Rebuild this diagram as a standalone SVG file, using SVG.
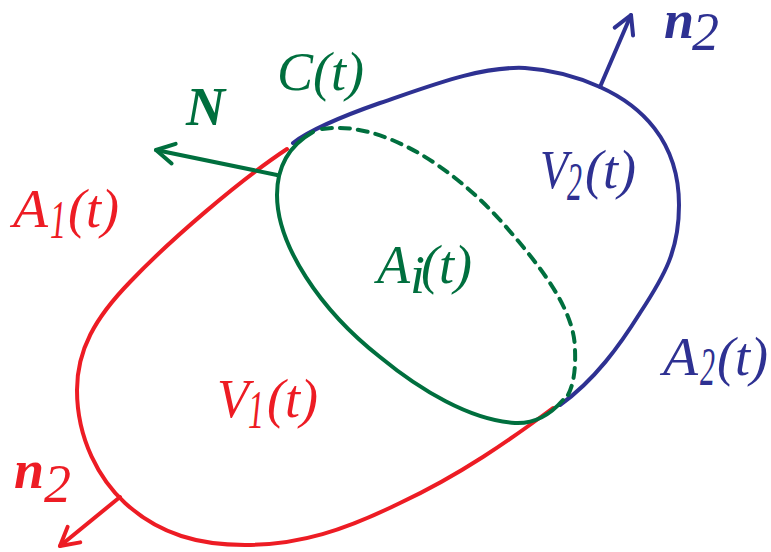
<svg xmlns="http://www.w3.org/2000/svg" width="771" height="552" viewBox="0 0 771 552">
<style>
.c{fill:none;stroke-width:4;stroke-linecap:round;stroke-linejoin:round}
.r{stroke:#ED1C24}.b{stroke:#2E3192}.g{stroke:#006F3E}
.t{font-family:"Liberation Serif","Times New Roman",serif;font-style:italic;font-size:54px}
.bi{font-weight:bold}
.fr{fill:#ED1C24}.fb{fill:#2E3192}.fg{fill:#006F3E}
</style>
<defs>
<marker id="mr" markerUnits="userSpaceOnUse" viewBox="-22 -13 26 26" markerWidth="26" markerHeight="26" refX="0" refY="0" orient="auto"><path d="M-18,-10 L0,0 L-18,10" fill="none" stroke="#ED1C24" stroke-width="4" stroke-linecap="round" stroke-linejoin="round"/></marker>
<marker id="mb" markerUnits="userSpaceOnUse" viewBox="-22 -13 26 26" markerWidth="26" markerHeight="26" refX="0" refY="0" orient="auto"><path d="M-18,-10 L0,0 L-18,10" fill="none" stroke="#2E3192" stroke-width="4" stroke-linecap="round" stroke-linejoin="round"/></marker>
<marker id="mg" markerUnits="userSpaceOnUse" viewBox="-22 -13 26 26" markerWidth="26" markerHeight="26" refX="0" refY="0" orient="auto"><path d="M-18,-10 L0,0 L-18,10" fill="none" stroke="#006F3E" stroke-width="4" stroke-linecap="round" stroke-linejoin="round"/></marker>
</defs>
<g id="V1">
<path class="c r" d="M287,149 C240,180 170,240 130,282 C95,318 77,350 77,390 C77,440 100,480 125,503 C160,535 200,545 245,545 C300,545 345,530 400,503 C460,475 510,440 553,408"/>
<text class="t fr" x="217" y="417" textLength="32" lengthAdjust="spacingAndGlyphs">V</text>
<text class="t fr" x="248" y="428" font-size="48" textLength="16" lengthAdjust="spacingAndGlyphs">1</text>
<text class="t fr" x="267" y="417">(t)</text>
<text class="t fr" x="13" y="227" textLength="35" lengthAdjust="spacingAndGlyphs">A</text>
<text class="t fr" x="50" y="238" font-size="48" textLength="16" lengthAdjust="spacingAndGlyphs">1</text>
<text class="t fr" x="68" y="227">(t)</text>
</g>
<g id="V2">
<path class="c b" d="M293,143 C310,130 340,117 380,103 C430,86 480,66 525,68 C555,70 580,78 600,87 C640,105 679,140 679,205 C679,250 665,275 640,313 C620,345 595,380 560,405"/>
<text class="t fb" x="540" y="188" textLength="28" lengthAdjust="spacingAndGlyphs">V</text>
<text class="t fb" x="567" y="200" font-size="38" textLength="15" lengthAdjust="spacingAndGlyphs">2</text>
<text class="t fb" x="585" y="188">(t)</text>
<text class="t fb" x="663" y="375" textLength="35" lengthAdjust="spacingAndGlyphs">A</text>
<text class="t fb" x="700" y="385" font-size="38" textLength="15" lengthAdjust="spacingAndGlyphs">2</text>
<text class="t fb" x="717" y="375">(t)</text>
</g>
<g id="Ai">
<path class="c g" d="M313,132 C290,145 277,165 277,195 C277,245 320,310 380,357 C420,390 470,420 515,423 C535,424 550,415 563,400"/>
<path class="c g" stroke-dasharray="10 8" stroke-linecap="butt" d="M322,129 C380,120 450,165 500,220 C540,265 575,310 575,350 C576,375 572,390 565,400"/>
<text class="t fg" x="377" y="283" textLength="33" lengthAdjust="spacingAndGlyphs">A</text>
<text class="t fg" x="410" y="293" font-size="30">i</text>
<text class="t fg" x="421" y="283">(t)</text>
<text class="t fg" x="277" y="90">C(t)</text>
</g>
<g id="connectors">
<line class="c g" x1="277" y1="175" x2="156" y2="150" marker-end="url(#mg)"/>
<line class="c b" x1="600" y1="87" x2="631" y2="15" marker-end="url(#mb)"/>
<line class="c r" x1="120" y1="497" x2="60" y2="546" marker-end="url(#mr)"/>
</g>
<g id="labels">
<text class="t bi fg" x="186" y="125">N</text>
<text class="t bi fb" x="664" y="38" font-size="50">n</text>
<text class="t fb" x="692" y="50" font-size="32">2</text>
<text class="t bi fr" x="14" y="488" font-size="50">n</text>
<text class="t fr" x="44" y="502" font-size="32">2</text>
</g>
</svg>
